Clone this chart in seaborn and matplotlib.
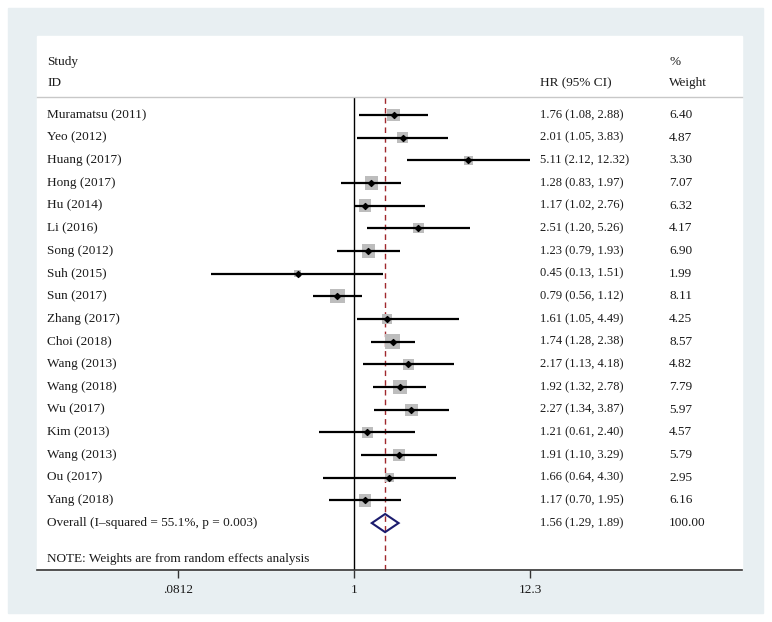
import numpy as np
import pandas as pd
import seaborn as sns
import matplotlib.pyplot as plt
from matplotlib.patches import Rectangle, Polygon
import matplotlib.transforms as mtransforms

# ---- data ----
studies = ["Muramatsu (2011)", "Yeo (2012)", "Huang (2017)", "Hong (2017)", "Hu (2014)",
           "Li (2016)", "Song (2012)", "Suh (2015)", "Sun (2017)", "Zhang (2017)",
           "Choi (2018)", "Wang (2013)", "Wang (2018)", "Wu (2017)", "Kim (2013)",
           "Wang (2013)", "Ou (2017)", "Yang (2018)"]
hr = [1.76, 2.01, 5.11, 1.28, 1.17, 2.51, 1.23, 0.45, 0.79, 1.61,
      1.74, 2.17, 1.92, 2.27, 1.21, 1.91, 1.66, 1.17]
lo = [1.08, 1.05, 2.12, 0.83, 1.02, 1.20, 0.79, 0.13, 0.56, 1.05,
      1.28, 1.13, 1.32, 1.34, 0.61, 1.10, 0.64, 0.70]
hi = [2.88, 3.83, 12.32, 1.97, 2.76, 5.26, 1.93, 1.51, 1.12, 4.49,
      2.38, 4.18, 2.78, 3.87, 2.40, 3.29, 4.30, 1.95]
weight = [6.40, 4.87, 3.30, 7.07, 6.32, 4.17, 6.90, 1.99, 8.11, 4.25,
          8.57, 4.82, 7.79, 5.97, 4.57, 5.79, 2.95, 6.16]

overall_label = "Overall (I\u2013squared = 55.1%, p = 0.003)"
overall_hr, overall_lo, overall_hi = 1.56, 1.29, 1.89
overall_weight = "100.00"
note = "NOTE: Weights are from random effects analysis"
tick_vals = [0.0812, 1, 12.3]
tick_labels = [".0812", "1", "12.3"]

df = pd.DataFrame({"study": studies, "hr": hr, "lo": lo, "hi": hi, "weight": weight})
df["row"] = np.arange(len(df))
overall_row = len(df)

sns.set_theme(style="white")
plt.rcParams["font.family"] = ["Liberation Serif", "DejaVu Serif"]

W, H = 772, 622
fig = plt.figure(figsize=(W / 100, H / 100), dpi=100, facecolor="white")

# light frame and white panel (behind the axes)
fig.patches.append(Rectangle((8 / W, (H - 613) / H), (763 - 8) / W, (613 - 8) / H,
                             transform=fig.transFigure, color="#e8eff2", zorder=-2))
fig.patches.append(Rectangle((37 / W, (H - 570) / H), (742 - 37) / W, (570 - 36) / H,
                             transform=fig.transFigure, color="white", zorder=-1))

ax = fig.add_axes([37 / W, (H - 570) / H, (742 - 37) / W, (570 - 97) / H])
ax.set_facecolor("none")
ax.set_xscale("log")

# weight boxes
sns.scatterplot(data=df, x="hr", y="row", size="weight",
                sizes=(13 * min(weight), 13 * max(weight)), marker="s",
                color="#bdbdbd", edgecolor="none", linewidth=0, legend=False, ax=ax, zorder=2)
# confidence intervals
ax.hlines(df["row"], df["lo"], df["hi"], color="black", lw=1.6, zorder=3)
ax.scatter(df["hr"], df["row"], marker="D", s=9, color="black", zorder=4)

# overall diamond
dh = 0.4
diamond = Polygon([(overall_lo, overall_row), (overall_hr, overall_row - dh),
                   (overall_hi, overall_row), (overall_hr, overall_row + dh)],
                  closed=True, fill=False, edgecolor="#1c1c6e", lw=1.5, zorder=4)
ax.add_patch(diamond)

ax.axvline(1, color="black", lw=1, zorder=1)
ax.axvline(overall_hr, color="#a0282d", lw=1, ls=(0, (4, 3)), zorder=1)

ax.set_xlim(0.0109, 253)
ax.set_ylim(20.07, -0.794)
ax.set_yticks([])
ax.set_xticks(tick_vals)
ax.set_xticklabels(tick_labels)
ax.xaxis.set_minor_locator(plt.NullLocator())
ax.tick_params(axis="x", direction="out", length=6, width=1, color="#333333",
               labelsize=9.5, pad=4, bottom=True, labelcolor="#1a1a1a")
ax.set_xlabel("")
ax.set_ylabel("")
for s in ["left", "right"]:
    ax.spines[s].set_visible(False)
ax.spines["top"].set_color("#c8c8c8")
ax.spines["top"].set_linewidth(1)
ax.spines["bottom"].set_color("#333333")
ax.spines["bottom"].set_linewidth(1.2)

# text columns
trans = mtransforms.blended_transform_factory(ax.transAxes, ax.transData)
x_study, x_hr, x_w = (47 - 37) / 705, (540 - 37) / 705, (669 - 37) / 705
fs = 9.5
fs_num = 9
tc = "#1a1a1a"
for _, r in df.iterrows():
    ax.text(x_study, r["row"], r["study"], transform=trans, va="center", fontsize=fs, color=tc)
    ax.text(x_hr, r["row"], f"{r['hr']:.2f} ({r['lo']:.2f}, {r['hi']:.2f})",
            transform=trans, va="center", fontsize=fs_num, color=tc)
    ax.text(x_w, r["row"], f"{r['weight']:.2f}", transform=trans, va="center",
            fontsize=fs, color=tc)

ax.text(x_study, overall_row, overall_label, transform=trans, va="center", fontsize=fs, color=tc)
ax.text(x_hr, overall_row, f"{overall_hr:.2f} ({overall_lo:.2f}, {overall_hi:.2f})",
        transform=trans, va="center", fontsize=fs_num, color=tc)
ax.text(x_w, overall_row, overall_weight, transform=trans, va="center", fontsize=fs, color=tc)
ax.text(x_study, 19.6, note, transform=trans, va="center", fontsize=fs, color=tc)

# header
for x, y, s in [(x_study, -2.34, "Study"), (x_study, -1.40, "ID"),
                (x_hr, -1.40, "HR (95% CI)"), (x_w, -2.34, "%"), (x_w, -1.40, "Weight")]:
    ax.text(x, y, s, transform=trans, va="center", fontsize=fs, color=tc, clip_on=False)

fig.savefig("out.png", dpi=100, facecolor="white")
